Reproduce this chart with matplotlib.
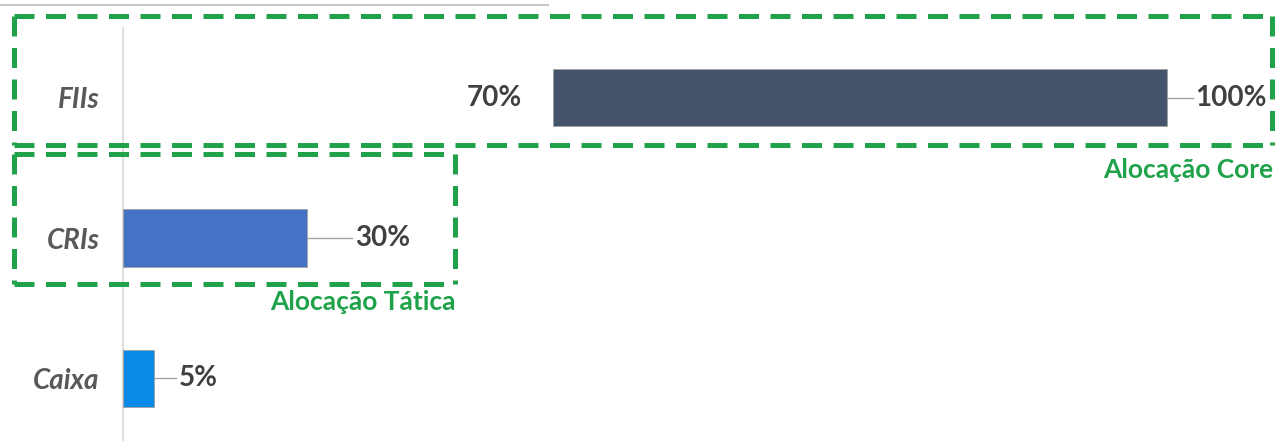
import matplotlib
matplotlib.use("Agg")
import matplotlib.pyplot as plt
from matplotlib.lines import Line2D

# Portfolio allocation ranges
categories = ["FIIs", "CRIs", "Caixa"]
bar_starts = [70, 0, 0]          # minimum allocation (%)
bar_widths = [100, 30, 5]        # allocation span shown on the bar (%)
start_labels = ["70%", None, None]
end_labels = ["100%", "30%", "5%"]
bar_colors = ["#44546A", "#4472C4", "#0A8AE6"]
label_gaps = [4.7, 7.8, 4.1]     # distance from bar end to value label (%)

W, H = 1276, 441
fig = plt.figure(figsize=(W / 100, H / 100), dpi=100)

px_per_pct = 6.14
x0_px = 123
ax = fig.add_axes([x0_px / W, 0, 1 - x0_px / W, 413 / H])
ax.set_xlim(0, (W - x0_px) / px_per_pct)
ax.set_ylim(2.445, -0.495)

ypos = list(range(len(categories)))
ax.barh(ypos, bar_widths, left=bar_starts, height=0.406, color=bar_colors,
        edgecolor="#A0A0A0", linewidth=0.6, zorder=3)

FONT = ["Lato", "DejaVu Sans"]
label_font = dict(family=FONT, fontweight="bold", fontsize=20, color="#404040")
for y, s, w, gap, lab0, lab1 in zip(ypos, bar_starts, bar_widths, label_gaps,
                                    start_labels, end_labels):
    end = s + w
    ax.plot([end, end + gap - 0.5], [y, y], color="#A6A6A6", lw=1, zorder=2)
    ax.text(end + gap, y, lab1, ha="left", va="center", **label_font)
    if lab0:
        ax.text(s - 5.0, y, lab0, ha="right", va="center", **label_font)

# Axes styling: only the left category axis line
for side in ["top", "right", "bottom"]:
    ax.spines[side].set_visible(False)
ax.spines["left"].set_color("#D9D9D9")
ax.spines["left"].set_linewidth(1.2)
ax.set_xticks([])
ax.set_yticks(ypos)
ax.set_yticklabels(categories, family=FONT, fontweight="bold",
                   fontstyle="italic", fontsize=20, color="#595959")
ax.tick_params(axis="y", length=0, pad=17)
ax.patch.set_alpha(0)

# Figure-level decorations in pixel coordinates
def fx(px):
    return px / W

def fy(py):
    return 1 - py / H

green = "#1FA24A"
dash = (0, (4.0, 2.3))

def dashed_box(x1, y1, x2, y2):
    segs = [((x1, x2), (y1, y1)), ((x1, x2), (y2, y2)),
            ((x1, x1), (y1, y2)), ((x2, x2), (y1, y2))]
    for xs, ys in segs:
        fig.add_artist(Line2D([fx(xs[0]), fx(xs[1])], [fy(ys[0]), fy(ys[1])],
                              color=green, lw=3.6, linestyle=dash,
                              solid_capstyle="butt", dash_capstyle="butt"))

dashed_box(14, 16, 1272, 145)
dashed_box(14, 154, 455, 284)

fig.text(fx(1273), fy(170), "Alocação Core", ha="right", va="center",
         family=FONT, fontweight="bold", fontsize=19, color=green)
fig.text(fx(456), fy(302), "Alocação Tática", ha="right", va="center",
         family=FONT, fontweight="bold", fontsize=19, color=green)

# thin rule at the very top
fig.add_artist(Line2D([0, fx(548)], [fy(5), fy(5)], color="#C8C8C8", lw=1.5))

fig.savefig("out.png", dpi=100, facecolor="white")
